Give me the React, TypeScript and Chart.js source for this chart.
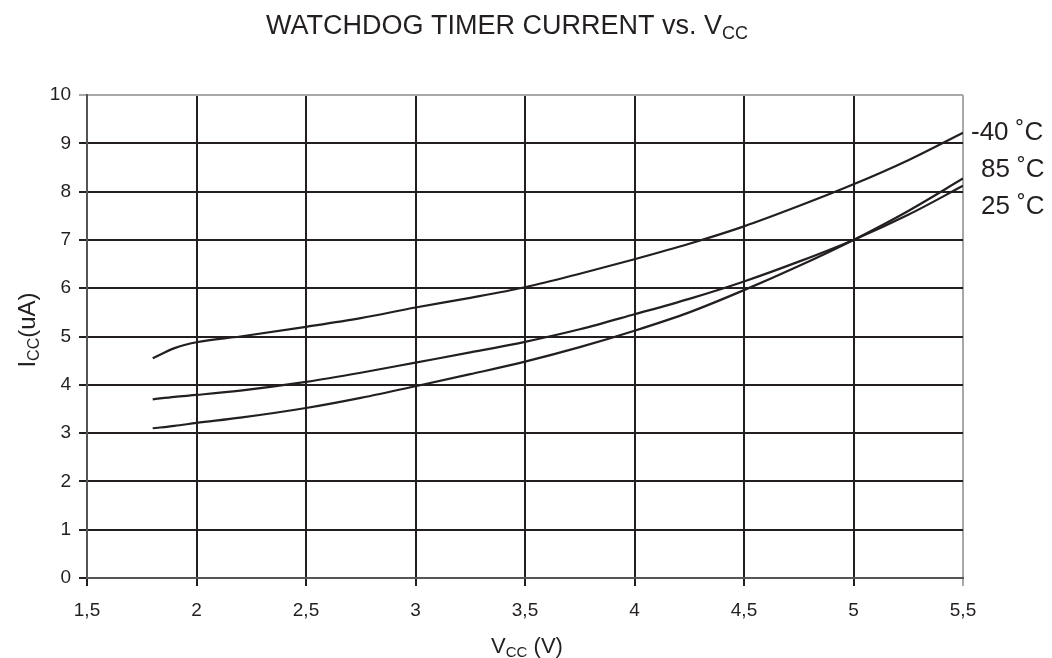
import React, { useEffect, useRef } from "react";
import { Chart, registerables } from "chart.js";

Chart.register(...registerables);

const vcc = [1.8, 1.9, 2.0, 2.2, 2.5, 2.75, 3.0, 3.25, 3.5, 3.75, 4.0, 4.25, 4.5, 4.75, 5.0, 5.25, 5.5];
const iccMinus40 = [4.55, 4.76, 4.88, 5.0, 5.2, 5.38, 5.6, 5.8, 6.02, 6.3, 6.6, 6.92, 7.28, 7.7, 8.15, 8.65, 9.22];
const icc85 = [3.7, 3.75, 3.79, 3.88, 4.06, 4.25, 4.46, 4.67, 4.89, 5.15, 5.46, 5.78, 6.14, 6.55, 7.0, 7.52, 8.12];
const icc25 = [3.1, 3.15, 3.21, 3.32, 3.52, 3.73, 3.97, 4.22, 4.48, 4.78, 5.12, 5.5, 5.96, 6.46, 7.0, 7.6, 8.27];
const seriesLabels = ["-40 ˚C", "85 ˚C", "25 ˚C"];
const seriesValues = [iccMinus40, icc85, icc25];
const titleMain = "WATCHDOG TIMER CURRENT vs. V";
const titleSub = "CC";

const INK = "#231f20";
const FONT = "'Liberation Sans', Arial, sans-serif";

type Part = { t: string; size: number; dy: number };

function drawParts(ctx: CanvasRenderingContext2D, parts: Part[], x: number, y: number, align: "center" | "left") {
  let total = 0;
  for (const p of parts) {
    ctx.font = `${p.size}px ${FONT}`;
    total += ctx.measureText(p.t).width;
  }
  let cx = align === "center" ? x - total / 2 : x;
  ctx.textAlign = "left";
  ctx.textBaseline = "alphabetic";
  for (const p of parts) {
    ctx.font = `${p.size}px ${FONT}`;
    ctx.fillText(p.t, cx, y + p.dy);
    cx += ctx.measureText(p.t).width;
  }
}

const textPlugin = {
  id: "textPlugin",
  afterDraw(chart: any) {
    const ctx: CanvasRenderingContext2D = chart.ctx;
    const xs = chart.scales.x;
    ctx.save();
    ctx.fillStyle = INK;
    // title
    drawParts(ctx, [
      { t: titleMain, size: 27, dy: 0 },
      { t: titleSub, size: 18, dy: 5 },
    ], 507, 34, "center");
    // x axis title
    drawParts(ctx, [
      { t: "V", size: 22, dy: 0 },
      { t: "CC", size: 15, dy: 4 },
      { t: " (V)", size: 22, dy: 0 },
    ], (xs.left + xs.right) / 2 + 2, 653, "center");
    // y axis title
    ctx.save();
    ctx.translate(35, 330);
    ctx.rotate(-Math.PI / 2);
    drawParts(ctx, [
      { t: "I", size: 24, dy: 0 },
      { t: "CC", size: 16, dy: 4 },
      { t: "(uA)", size: 24, dy: 0 },
    ], 0, 0, "center");
    ctx.restore();
    // series labels at right
    const labelY = [133, 170, 207];
    const labelX = [971, 981, 981];
    ctx.font = `26px ${FONT}`;
    ctx.textBaseline = "middle";
    ctx.textAlign = "left";
    seriesLabels.forEach((l, i) => {
      ctx.fillText(l, labelX[i], labelY[i]);
    });
    ctx.restore();
  },
};

export default function App() {
  const ref = useRef<HTMLCanvasElement | null>(null);
  useEffect(() => {
    if (!ref.current) return;
    const mk = (label: string, data: number[]) => ({
      label,
      data: vcc.map((v, i) => ({ x: v, y: data[i] })),
      borderColor: INK,
      borderWidth: 2.2,
      pointRadius: 0,
      fill: false,
      cubicInterpolationMode: "monotone" as const,
    });
    const chart = new Chart(ref.current, {
      type: "line",
      data: {
        datasets: seriesValues.map((d, i) => mk(seriesLabels[i], d)),
      },
      options: {
        responsive: false,
        animation: false,
        layout: { padding: { left: 0, top: 95, right: 89, bottom: 0 } },
        plugins: {
          legend: { display: false },
          title: { display: false },
          tooltip: { enabled: false },
        },
        scales: {
          x: {
            type: "linear",
            min: 1.5,
            max: 5.5,
            afterFit: (s: any) => {
              s.height = 80;
            },
            ticks: {
              stepSize: 0.5,
              color: INK,
              padding: 13,
              font: { family: FONT, size: 19 },
              callback: (v: any) => String(v).replace(".", ","),
            },
            grid: {
              color: (c: any) => (c.tick && c.tick.value === 5.5 ? "#a8a8a8" : INK),
              lineWidth: 2,
              tickLength: 8,
              drawTicks: true,
            },
            border: { color: "#555555", width: 2 },
          },
          y: {
            type: "linear",
            min: 0,
            max: 10,
            afterFit: (s: any) => {
              s.width = 87;
            },
            ticks: {
              stepSize: 1,
              color: INK,
              padding: 8,
              font: { family: FONT, size: 19 },
            },
            grid: {
              color: (c: any) => (c.tick && c.tick.value === 10 ? "#a8a8a8" : INK),
              lineWidth: 2,
              tickLength: 8,
            },
            border: { color: "#555555", width: 2 },
          },
        },
      },
      plugins: [textPlugin],
    });
    return () => chart.destroy();
  }, []);
  return (
    <div style={{ position: "fixed", left: 0, top: 0, width: 1052, height: 658, background: "#fff" }}>
      <canvas ref={ref} width={1052} height={658} style={{ width: 1052, height: 658 }} />
    </div>
  );
}
